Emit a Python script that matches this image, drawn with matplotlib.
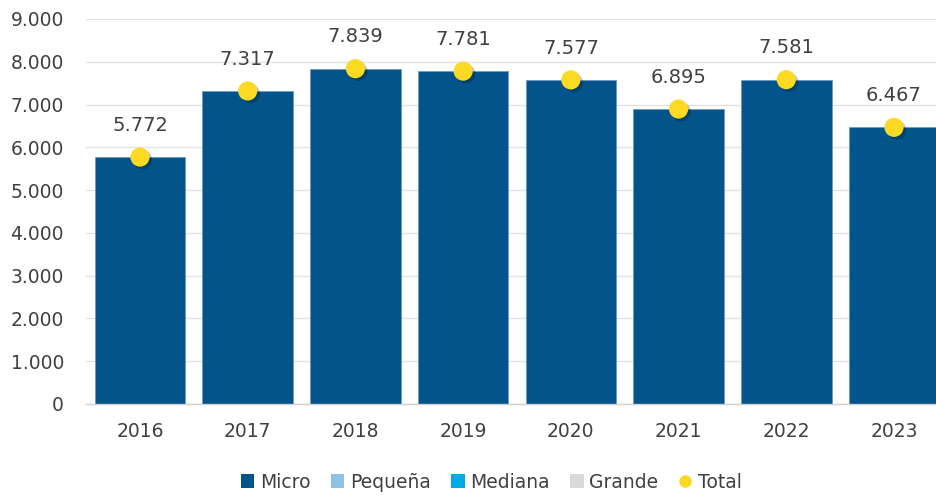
import matplotlib.pyplot as plt
import matplotlib.patheffects as pe
import numpy as np
from matplotlib.lines import Line2D
from matplotlib.patches import Patch

years = ["2016", "2017", "2018", "2019", "2020", "2021", "2022", "2023"]
micro = [5772, 7317, 7839, 7781, 7577, 6895, 7581, 6467]
pequena = [0, 0, 0, 0, 0, 0, 0, 0]
mediana = [0, 0, 0, 0, 0, 0, 0, 0]
grande = [0, 0, 0, 0, 0, 0, 0, 0]
total = [5772, 7317, 7839, 7781, 7577, 6895, 7581, 6467]

C_MICRO = "#02548A"
C_PEQ = "#8FC3E6"
C_MED = "#00ACE6"
C_GRA = "#D9D9D9"
C_TOT = "#FCD923"
TXT = "#404040"


def fmt(v):
    return f"{int(v):,}".replace(",", ".")


fig = plt.figure(figsize=(9.36, 4.96), dpi=100)
fig.patch.set_facecolor("white")
ax = fig.add_axes([0.092, 0.1855, 0.908, 0.7762])

x = np.arange(len(years))
w = 0.84
bottom = np.zeros(len(years))
for vals, col in [(micro, C_MICRO), (pequena, C_PEQ), (mediana, C_MED), (grande, C_GRA)]:
    ax.bar(x, vals, width=w, bottom=bottom, color=col, edgecolor="#6A9CC8",
           linewidth=0.6 if col == C_MICRO else 0, zorder=2)
    bottom += np.array(vals)

ax.scatter(x, total, s=190, color=C_TOT, zorder=4, linewidths=0,
           path_effects=[pe.SimplePatchShadow(offset=(2, -2), alpha=0.22, shadow_rgbFace="black"),
                         pe.Normal()])
for xi, t in zip(x, total):
    ax.annotate(fmt(t), (xi, t), xytext=(0, 16), textcoords="offset points",
                ha="center", va="bottom", fontsize=14, color=TXT, annotation_clip=False)

ax.set_ylim(0, 9000)
ax.set_xlim(-0.5, 7 + 42 / 107.7)
ax.set_yticks(np.arange(0, 9001, 1000))
ax.set_yticklabels([fmt(v) for v in np.arange(0, 9001, 1000)])
ax.set_xticks(x)
ax.set_xticklabels(years)
ax.tick_params(axis="y", length=0, pad=16, labelsize=13.5, labelcolor=TXT)
ax.tick_params(axis="x", length=0, pad=13, labelsize=13.5, labelcolor=TXT)
ax.grid(axis="y", color="#E3E3E3", linewidth=1, zorder=0)
ax.set_axisbelow(True)
for side in ["top", "right", "left"]:
    ax.spines[side].set_visible(False)
ax.spines["bottom"].set_color("#D0D0D0")
ax.spines["bottom"].set_linewidth(1)

handles = [
    Patch(facecolor=C_MICRO, label="Micro"),
    Patch(facecolor=C_PEQ, label="Pequeña"),
    Patch(facecolor=C_MED, label="Mediana"),
    Patch(facecolor=C_GRA, label="Grande"),
    Line2D([], [], marker="o", linestyle="none", color=C_TOT, markersize=8, label="Total"),
]
leg = fig.legend(handles=handles, loc="center", bbox_to_anchor=(0.525, 0.028), ncol=5,
                 frameon=False, fontsize=13.5, handlelength=0.7, handleheight=0.7,
                 handletextpad=0.3, columnspacing=1.1)
for t in leg.get_texts():
    t.set_color(TXT)

fig.savefig("out.png", dpi=100)
